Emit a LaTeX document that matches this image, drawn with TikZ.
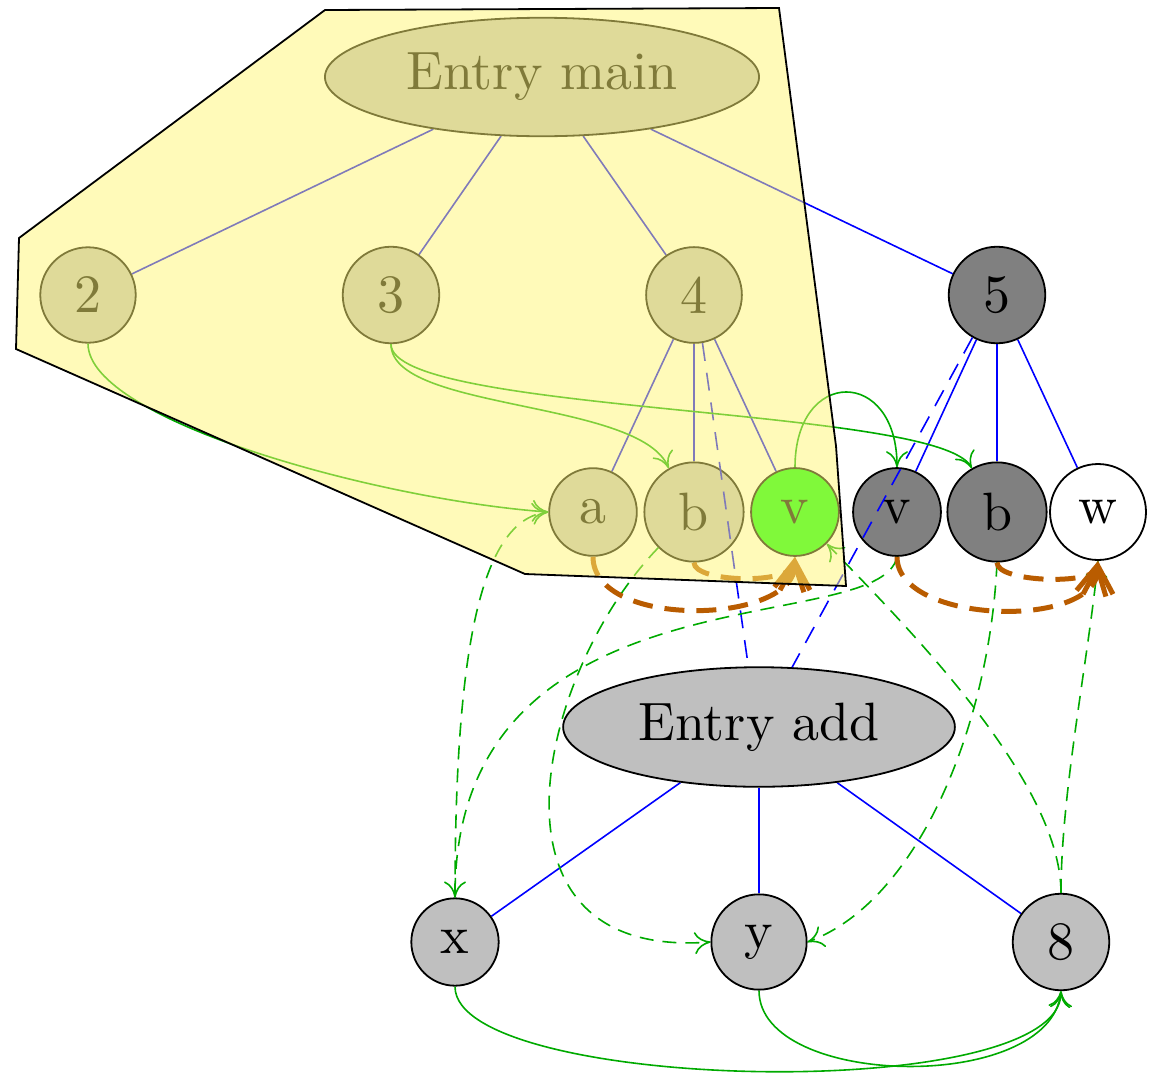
\documentclass[tikz,border=0pt]{standalone}
\usepackage{fontspec}
\newfontfamily\labelfont{lmroman10-regular.otf}
\usetikzlibrary{arrows.meta,shapes.geometric,backgrounds}
\definecolor{flow}{RGB}{0,170,0}
\definecolor{dep}{RGB}{185,92,0}
\definecolor{hilite}{RGB}{255,245,116}
\definecolor{brightgreen}{RGB}{0,255,0}
\begin{document}
\begin{tikzpicture}[x=1pt,y=1pt,
  every node/.style={font=\labelfont\fontsize{54}{60}\selectfont,inner sep=18pt},
  vert/.style={circle,draw,line width=1.8pt,fill=lightgray},
  entry/.style={ellipse,draw,line width=1.8pt,fill=lightgray},
  treeedge/.style={blue,line width=1.6pt},
  flowarrow/.style={flow,line width=1.6pt,
    -{Computer Modern Rightarrow[length=16pt,width=22pt]}},
  flowdash/.style={flowarrow,dash pattern=on 14pt off 9pt},
  calldash/.style={blue,line width=1.6pt,dash pattern=on 18pt off 12pt},
  depend/.style={dep,line width=5pt,dash pattern=on 20pt off 12pt,
    -{Straight Barb[length=28pt,width=30pt]}}]
\useasboundingbox (0,0) rectangle (1151,-1074);

% procedure main
\node[entry] (main) at (542,-77) {Entry main};
\node[vert] (n2) at (88,-295) {2};
\node[vert] (n3) at (391,-295) {3};
\node[vert] (n4) at (694,-295) {4};
\node[vert,fill=gray] (n5) at (997,-295) {5};
\node[vert] (a) at (593,-512) {a};
\node[vert] (b1) at (694,-512) {b};
\node[vert,fill=brightgreen] (v1) at (795,-512) {v};
\node[vert,fill=gray] (v2) at (897,-512) {v};
\node[vert,fill=gray] (b2) at (997,-512) {b};
\node[vert,fill=white] (w) at (1098,-512) {w};

% procedure add
\node[entry] (add) at (759,-727) {Entry add};
\node[vert] (x) at (455,-942) {x};
\node[vert] (y) at (759,-942) {y};
\node[vert] (n8) at (1061,-942) {8};

% control dependence edges, kept behind the vertices
\begin{scope}[on background layer]
\foreach \s/\t in {main/n2,main/n3,main/n4,main/n5,n4/a,n4/b1,n4/v1,
                   n5/v2,n5/b2,n5/w,add/x,add/y,add/n8}
  \draw[treeedge] (\s) -- (\t);
\end{scope}

% call edges
\draw[calldash] (n4.-80) -- (add.100);
\draw[calldash] (n5.-120) -- (add.61);

% flow dependence edges
\draw[flowarrow] (n2.south) .. controls +(0,-77) and +(-168,12) .. (a.west);
\draw[flowarrow] (n3.south) .. controls +(0,-67) and +(-29,69) .. (b1.120);
\draw[flowarrow] (n3.south) .. controls +(0,-70) and +(-32,62) .. (b2.120);
\draw[flowarrow] (v1.north) .. controls +(0,100) and +(0,100) .. (v2.north);
\draw[flowarrow] (x.south) .. controls +(0,-105) and +(0,-115) .. (n8.south);
\draw[flowarrow] (y.south) .. controls +(0,-98) and +(-11,-103) .. (n8.south);

\draw[flowdash] (b1.225) .. controls +(-119,-123) and +(-241,-18) .. (y.west);
\draw[flowdash] (v2.south) .. controls +(-17,-83) and +(0,337) .. (x.north);
\draw[flowdash] (x.north) .. controls +(0,247) and +(-68,-8) .. (a.west);
\draw[flowdash] (n8.north) .. controls +(0,114) and +(73,-76) .. (v1.-45);
\draw[flowdash] (n8.north) .. controls +(0,100) and +(-10,-100) .. (w.south);
\draw[flowdash] (b2.south) .. controls +(-7,-158) and +(113,42) .. (y.east);

% summary edges
\draw[depend] (a.south) .. controls +(0,-73) and +(0,-68) .. (v1.south);
\draw[depend] (b1.south) .. controls +(0,-20) and +(-5,-28) .. (v1.south);
\draw[depend] (v2.south) .. controls +(0,-68) and +(0,-69) .. (w.south);
\draw[depend] (b2.south) .. controls +(0,-20) and +(-5,-24) .. (w.south);

% highlighted region
\draw[line width=1.8pt,fill=hilite,fill opacity=0.5]
  (325,-10) -- (779,-8) -- (836,-446) -- (846,-586) -- (525,-574)
  -- (16,-349) -- (19,-238) -- cycle;
\end{tikzpicture}
\end{document}
